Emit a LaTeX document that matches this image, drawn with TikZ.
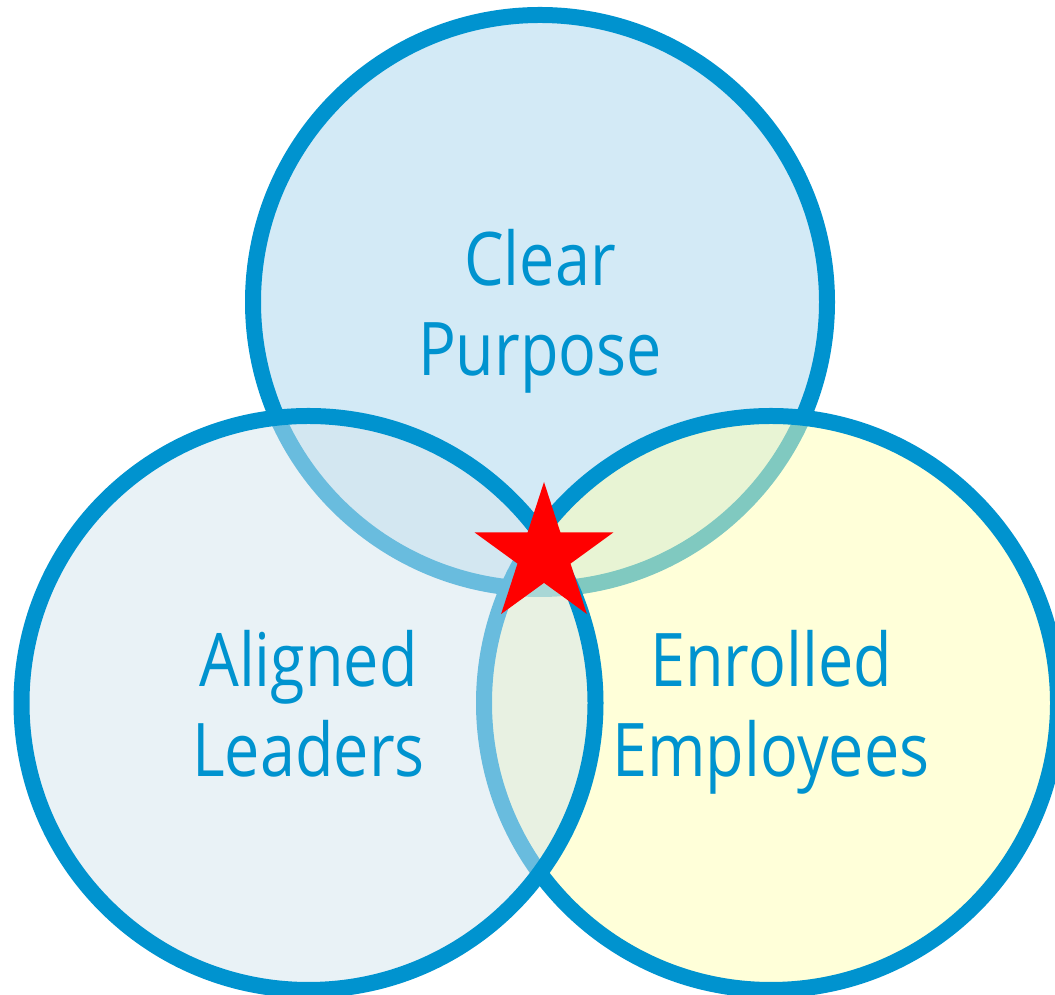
\documentclass[tikz,border=0pt]{standalone}
\usepackage{fontspec}
\setmainfont{Open Sans}[FakeStretch=0.85]
\usetikzlibrary{shapes.geometric}

\definecolor{ringblue}{RGB}{0,147,207}
\definecolor{purposefill}{RGB}{167,213,237}
\definecolor{leaderfill}{RGB}{211,229,237}
\definecolor{employeefill}{RGB}{255,255,179}

\begin{document}
\begin{tikzpicture}[
  x=0.5pt, y=0.5pt,
  ring/.style={
    circle,
    draw=ringblue,
    line width=8pt,
    minimum size=287pt,
    inner sep=0pt,
    fill opacity=0.5,
    text opacity=1,
    text=ringblue,
    align=center,
    text depth=0pt,
    font=\fontsize{37pt}{45pt}\selectfont
  }
]
\useasboundingbox (0,0) rectangle (1055,995);

% Circles, back to front
\node[ring,fill=purposefill] (purpose) at (540,693) {Clear\\Purpose};
\node[ring,fill=employeefill] (employees) at (771,292) {Enrolled\\Employees};
\node[ring,fill=leaderfill] (leaders) at (308.5,292) {Aligned\\Leaders};

% Star where all three meet
\node[star,star points=5,star point ratio=2.618,fill=red,minimum size=73pt,inner sep=0pt] (focus) at (544,440) {};

\end{tikzpicture}
\end{document}
